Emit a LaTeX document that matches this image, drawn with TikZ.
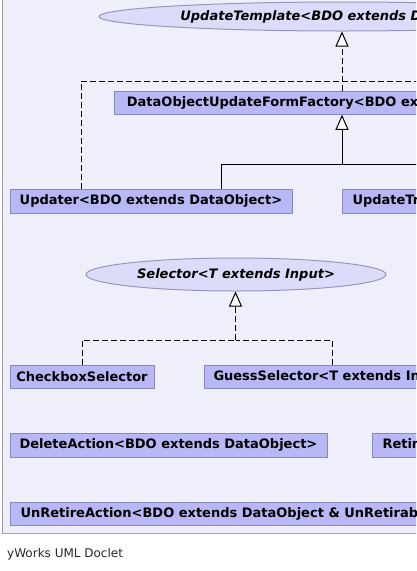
\documentclass[tikz,border=0pt]{standalone}
\usepackage{fontspec}
\setmainfont{DejaVu Sans}
\usetikzlibrary{arrows.meta,shapes.geometric}
\definecolor{panelbg}{RGB}{239,239,251}
\definecolor{panelln}{RGB}{160,160,176}
\definecolor{boxbg}{RGB}{184,184,246}
\definecolor{boxln}{RGB}{136,136,192}
\definecolor{ellbg}{RGB}{220,220,250}
\definecolor{ellln}{RGB}{150,150,184}
\definecolor{footer}{RGB}{40,40,40}
\begin{document}
\begin{tikzpicture}[x=1pt,y=-1pt,
 cls/.style={rectangle,draw=boxln,fill=boxbg,line width=1pt,font=\bfseries\fontsize{13}{15}\selectfont,inner sep=0pt,minimum height=23pt},
 clsw/.style={cls,anchor=west,inner xsep=10pt},
 ifc/.style={ellipse,draw=ellln,fill=ellbg,line width=1pt,font=\bfseries\itshape\fontsize{13}{15}\selectfont,inner sep=0pt},
 real/.style={line width=1pt,dash pattern=on 6pt off 3pt},
 inh/.style={line width=1pt},
 tri/.style={-{Triangle[open,fill=white,length=15pt,width=13pt]}}]
\useasboundingbox (0,0) rectangle (416,571);
\clip (0,0) rectangle (416,571);
\fill[white] (0,0) rectangle (416,571);
\draw[panelln,fill=panelbg,line width=1pt] (2.5,-5) rectangle (700,533);

% first group
\node[ifc,minimum width=486pt,minimum height=29pt] (ut) at (342,16.5) {UpdateTemplate<BDO extends DataObject>};
\node[cls,minimum width=456pt,minimum height=22.5pt] (dof) at (342,103) {DataObjectUpdateFormFactory<BDO extends DataObject>};
\node[cls,minimum width=282pt,minimum height=24pt] (upd) at (151,201.3) {Updater<BDO extends DataObject>};
\node[clsw,minimum height=24pt] (utr) at (342,201.3) {UpdateTransaction<BDO extends DataObject>};

\coordinate (b1) at (81,81);
\coordinate (b1r) at (600,81);
\coordinate (b2) at (221,164);
\coordinate (b2r) at (600,164);
\draw[real,tri] (dof.north) -- (ut.south);
\draw[real] (upd.north -| b1) -- (b1) -- (b1r);
\draw[inh,tri] (dof.south |- b2) -- (dof.south);
\draw[inh] (upd.north -| b2) -- (b2) -- (b2r);

% second group
\node[ifc,minimum width=300pt,minimum height=33pt] (sel) at (236,274.5) {Selector<T extends Input>};
\node[cls,minimum width=144pt,minimum height=23pt] (cbs) at (82,376.7) {CheckboxSelector};
\node[clsw,inner xsep=9pt,minimum height=23pt] (gss) at (204,376.7) {GuessSelector<T extends Input>};
\coordinate (b3) at (235.5,340);
\draw[real,tri] (b3) -- (b3 |- sel.south);
\draw[real] (cbs.north) |- (b3);
\draw[real] ([xshift=128pt]gss.north west) |- (b3);

% third group
\node[cls,minimum width=317pt,minimum height=24pt] (del) at (168.5,445.3) {DeleteAction<BDO extends DataObject>};
\node[clsw,minimum height=24pt] (ret) at (372,445.3) {RetireAction<BDO extends DataObject \& Retirable>};
\node[clsw,minimum height=23pt] (unr) at (10,513.8) {UnRetireAction<BDO extends DataObject \& UnRetirable>};

\node[anchor=base west,inner sep=0pt,text=footer,font=\fontsize{12}{14}\selectfont] (ft) at (7,557) {yWorks UML Doclet};
\end{tikzpicture}
\end{document}
